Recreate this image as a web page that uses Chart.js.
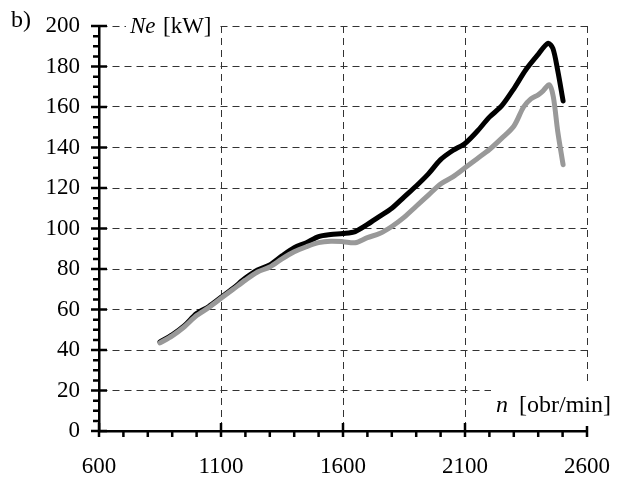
<!DOCTYPE html>
<html>
<head>
<meta charset="utf-8">
<script src="https://cdn.jsdelivr.net/npm/chart.js@4"></script>
<style>
  html, body { margin: 0; padding: 0; background: #fff; }
  #wrap { width: 619px; height: 478px; }
</style>
</head>
<body>
<div id="wrap"><canvas id="neChart"></canvas></div>
<script>
// engine speed [obr/min] and power [kW]
const rpmBlack = [850, 900, 950, 1000, 1050, 1100, 1150, 1200, 1250, 1300, 1350, 1400, 1450, 1500, 1550, 1600, 1650, 1700, 1750, 1800, 1850, 1900, 1950, 2000, 2050, 2100, 2150, 2200, 2250, 2300, 2350, 2400, 2440, 2460, 2480, 2502];
const neBlack  = [44, 47.5, 52, 58, 61.5, 66, 70.5, 75.5, 79.5, 82, 86.5, 90.5, 93, 96, 97, 97.5, 98.5, 102, 106, 110, 115.5, 121, 127, 134, 138.5, 142, 148, 155, 160.5, 169, 178.5, 186, 191.5, 189, 178, 163];

const rpmGray = [850, 900, 950, 1000, 1050, 1100, 1150, 1200, 1250, 1300, 1350, 1400, 1450, 1500, 1550, 1600, 1650, 1700, 1750, 1800, 1850, 1900, 1950, 2000, 2050, 2100, 2150, 2200, 2250, 2300, 2340, 2370, 2400, 2420, 2445, 2462, 2480, 2502];
const neGray  = [43.5, 47, 51.5, 57, 61, 65.5, 70, 74.5, 78.5, 81, 85, 88.5, 91, 93, 93.7, 93.5, 93, 95.5, 97.5, 101, 105.5, 111, 116.5, 122, 125.5, 130, 134.5, 139, 144.5, 150.5, 160, 164, 166, 168, 171, 165, 148, 131.5];

const xTicks = [600, 1100, 1600, 2100, 2600];
const yTicks = [0, 20, 40, 60, 80, 100, 120, 140, 160, 180, 200];

const toPoints = (xs, ys) => xs.map((x, i) => ({ x: x, y: ys[i] }));
const serif = 'Liberation Serif';

// minor/major tick marks crossing the axes + text labels
const axisDecor = {
    id: 'axisDecor',
    afterDraw(chart) {
        const c = chart.ctx;
        const xs = chart.scales.x, ys = chart.scales.y;
        const x0 = xs.getPixelForValue(600);
        const y0 = ys.getPixelForValue(0);
        c.save();
        c.strokeStyle = '#000';
        c.lineWidth = 2.5;
        c.beginPath();
        for (let v = 0; v <= 200; v += 5) {
            const py = ys.getPixelForValue(v);
            if (v % 20 === 0) { c.moveTo(x0 - 8, py); c.lineTo(x0 + 8, py); }
            else { c.moveTo(x0 - 6, py); c.lineTo(x0 + 1, py); }
        }
        for (let v = 600; v <= 2600; v += 100) {
            const px = xs.getPixelForValue(v);
            if (v % 500 === 100) { c.moveTo(px, y0 - 8); c.lineTo(px, y0 + 6); }
            else { c.moveTo(px, y0); c.lineTo(px, y0 + 6); }
        }
        c.stroke();

        // axis titles with white boxes
        c.fillStyle = '#fff';
        c.fillRect(126, 12, 93, 28);
        c.fillRect(491, 382, 128, 44);
        c.fillStyle = '#000';
        c.textBaseline = 'middle';
        c.textAlign = 'left';
        c.font = 'italic 23px ' + serif;
        c.fillText('Ne', 130, 27);
        c.font = '23px ' + serif;
        c.fillText('[kW]', 163, 27);
        c.font = 'italic 24px ' + serif;
        c.fillText('n', 496, 406);
        c.font = '24px ' + serif;
        c.fillText('[obr/min]', 519, 406);
        c.font = '24px ' + serif;
        c.fillText('b)', 11, 21);
        c.restore();
    }
};

new Chart(document.getElementById('neChart'), {
    type: 'line',
    data: {
        datasets: [
            {
                label: 'gray',
                data: toPoints(rpmGray, neGray),
                borderColor: '#999999',
                borderWidth: 5
            },
            {
                label: 'black',
                data: toPoints(rpmBlack, neBlack),
                borderColor: '#000000',
                borderWidth: 5
            }
        ]
    },
    options: {
        responsive: true,
        maintainAspectRatio: false,
        animation: false,
        layout: { padding: { top: 26, right: 32, left: 0, bottom: 0 } },
        elements: {
            point: { radius: 0 },
            line: { tension: 0.3, borderCapStyle: 'round', borderJoinStyle: 'round', fill: false }
        },
        scales: {
            x: {
                type: 'linear',
                min: 600,
                max: 2600,
                afterBuildTicks: s => { s.ticks = xTicks.map(v => ({ value: v })); },
                afterFit: s => { s.height = 47; },
                ticks: {
                    color: '#000',
                    padding: 0,
                    maxRotation: 0,
                    font: { family: serif, size: 23 },
                    callback: v => String(v)
                },
                // invisible tick marks only push the labels away from the axis
                grid: { color: '#333', lineWidth: 1, drawTicks: true, tickLength: 22, tickColor: 'rgba(0,0,0,0)' },
                border: { display: true, color: '#000', width: 2.5, dash: [7, 5] }
            },
            y: {
                min: 0,
                max: 200,
                afterBuildTicks: s => { s.ticks = yTicks.map(v => ({ value: v })); },
                afterFit: s => { s.width = 99; },
                ticks: {
                    color: '#000',
                    padding: 0,
                    font: { family: serif, size: 23 },
                    callback: v => String(v)
                },
                grid: { color: '#333', lineWidth: 1, drawTicks: true, tickLength: 19, tickColor: 'rgba(0,0,0,0)' },
                border: { display: true, color: '#000', width: 2.5, dash: [7, 5] }
            }
        },
        plugins: {
            legend: { display: false },
            tooltip: { enabled: false }
        }
    },
    plugins: [axisDecor]
});
</script>
</body>
</html>
